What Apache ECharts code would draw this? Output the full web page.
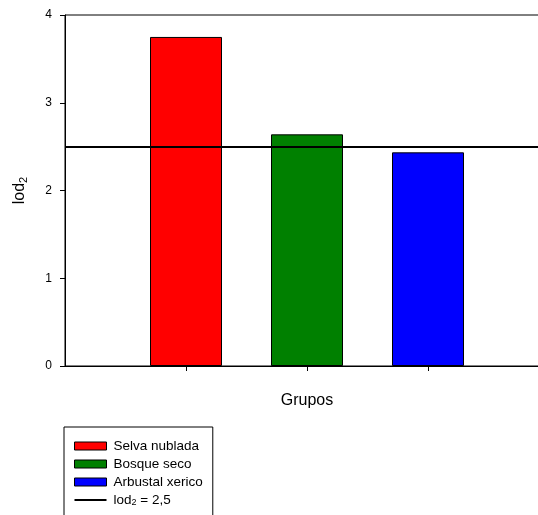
<!DOCTYPE html>
<html>
<head>
<meta charset="utf-8">
<script src="https://cdn.jsdelivr.net/npm/echarts@6/dist/echarts.min.js"></script>
<style>
html,body{margin:0;padding:0;background:#fff;}
#c{width:538px;height:515px;}
</style>
</head>
<body>
<div id="c"></div>
<script>
// Data
var groups = ['Selva nublada', 'Bosque seco', 'Arbustal xerico'];
var values = [3.75, 2.64, 2.435];
var colors = ['#ff0000', '#008000', '#0000ff'];
var threshold = 2.5;
var thresholdLabel = 'lod2 = 2,5';
var yTicks = [0, 1, 2, 3, 4];

var font = 'Liberation Sans, Arial, sans-serif';
// category slots: an empty slot on each side of the groups
var slots = [''].concat(groups).concat(['']);

var series = groups.map(function (g, i) {
  var d = slots.map(function (s, j) { return j === i + 1 ? values[i] : null; });
  return {
    name: g,
    type: 'bar',
    data: d,
    barWidth: 72,
    barGap: '-100%',
    itemStyle: { color: colors[i], borderColor: '#000', borderWidth: 1 },
    z: 2
  };
});
series.push({
  name: thresholdLabel,
  type: 'line',
  data: [],
  symbol: 'none',
  lineStyle: { color: '#000', width: 2 },
  itemStyle: { color: '#000' },
  z: 5,
  markLine: {
    silent: true,
    symbol: 'none',
    label: { show: false },
    lineStyle: { color: '#000', width: 2, type: 'solid' },
    data: [{ yAxis: threshold }]
  }
});

var legendData = groups.map(function (g) {
  return { name: g, icon: 'rect' };
});
legendData.push({
  name: thresholdLabel,
  icon: 'path://M0,0H32V2H0Z',
  itemStyle: { color: '#000', borderWidth: 0 }
});

var chart = echarts.init(document.getElementById('c'));
chart.setOption({
  animation: false,
  backgroundColor: '#fff',
  textStyle: { fontFamily: font },
  grid: {
    left: 65, top: 15, right: -11, bottom: 149,
    containLabel: false,
    outerBoundsMode: 'none',
    show: true, borderColor: '#000', borderWidth: 1, backgroundColor: 'transparent'
  },
  xAxis: {
    type: 'category',
    data: slots,
    boundaryGap: false,
    name: 'Grupos',
    nameLocation: 'middle',
    nameGap: 27,
    nameTextStyle: { fontSize: 16, color: '#000', fontFamily: font },
    axisLine: { lineStyle: { color: '#000', width: 1 } },
    axisTick: {
      length: 5,
      lineStyle: { color: '#000' },
      interval: function (idx) { return idx >= 1 && idx <= groups.length; }
    },
    axisLabel: { show: false },
    splitLine: { show: false }
  },
  yAxis: {
    type: 'value',
    min: yTicks[0],
    max: yTicks[yTicks.length - 1],
    interval: 1,
    name: '{a|lod}{s|2}',
    nameLocation: 'middle',
    nameGap: 36,
    nameTextStyle: {
      color: '#000', fontFamily: font,
      rich: {
        a: { fontSize: 16, color: '#000', fontFamily: font },
        s: { fontSize: 11, color: '#000', fontFamily: font, padding: [8, 0, 0, 0] }
      }
    },
    axisLine: { show: true, lineStyle: { color: '#000', width: 1 } },
    axisTick: { show: true, length: 5, lineStyle: { color: '#000' } },
    axisLabel: { margin: 13, fontSize: 12, color: '#000', fontFamily: font },
    splitLine: { show: false }
  },
  legend: {
    orient: 'vertical',
    left: 64,
    top: 427,
    height: 300,
    padding: [12, 10, 40, 10],
    itemGap: 4,
    itemWidth: 32,
    itemHeight: 8,
    borderColor: '#000',
    borderWidth: 1,
    borderRadius: 0,
    backgroundColor: '#fff',
    data: legendData,
    itemStyle: { borderColor: '#000', borderWidth: 1 },
    formatter: function (name) {
      if (name === thresholdLabel) return '{p|}{n|lod}{s|2}{n| = 2,5}';
      return '{p|}{n|' + name + '}';
    },
    textStyle: {
      fontFamily: font, fontSize: 13.5, color: '#000',
      rich: {
        p: { width: 2 },
        n: { fontSize: 13.5, color: '#000', fontFamily: font },
        s: { fontSize: 9, color: '#000', fontFamily: font, padding: [6, 0, 0, 0] }
      }
    }
  },
  series: series
});
</script>
</body>
</html>
